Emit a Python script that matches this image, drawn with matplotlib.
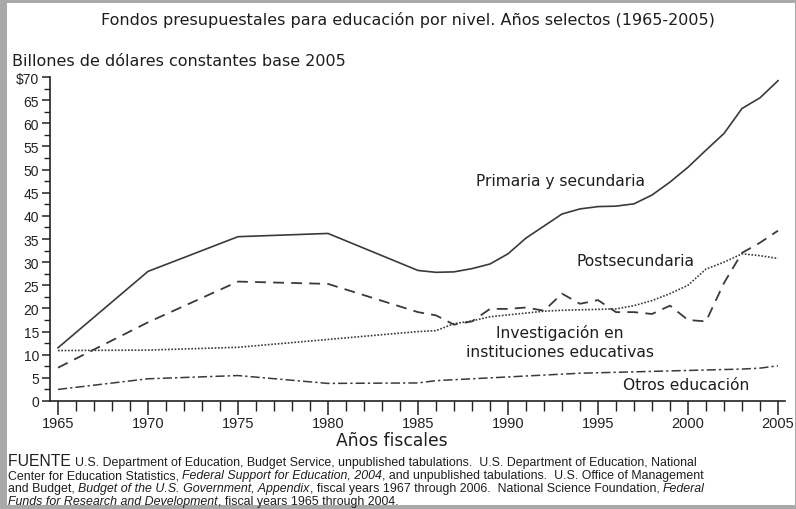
import numpy as np
import matplotlib
matplotlib.use("Agg")
import matplotlib.pyplot as plt
from matplotlib.patches import Rectangle
from matplotlib.ticker import MultipleLocator

plt.rcParams['font.family'] = ['Liberation Sans', 'DejaVu Sans']

# años: cada 5 años hasta 1985, luego anual
years = [1965, 1970, 1975, 1980, 1985, 1986, 1987, 1988, 1989, 1990, 1991, 1992,
         1993, 1994, 1995, 1996, 1997, 1998, 1999, 2000, 2001, 2002, 2003, 2004, 2005]

primaria = [11.5, 28.0, 35.5, 36.2, 28.2, 27.8, 27.9, 28.6, 29.6, 31.8, 35.2, 37.8,
            40.4, 41.5, 42.0, 42.1, 42.6, 44.5, 47.3, 50.5, 54.2, 57.8, 63.2, 65.5, 69.2]
postsec = [7.2, 17.0, 25.8, 25.3, 19.2, 18.5, 16.5, 17.2, 19.9, 19.9, 20.2, 19.5,
           23.2, 21.0, 21.8, 19.2, 19.2, 18.8, 20.6, 17.5, 17.2, 25.5, 32.0, 34.2, 36.8]
investigacion = [10.9, 11.0, 11.6, 13.3, 15.0, 15.2, 16.7, 17.3, 18.2, 18.6, 19.0, 19.4,
                 19.6, 19.7, 19.8, 19.9, 20.6, 21.7, 23.2, 25.0, 28.5, 30.0, 31.8, 31.4, 30.8]
otros = [2.5, 4.8, 5.5, 3.8, 3.9, 4.4, 4.6, 4.8, 5.0, 5.2, 5.4, 5.6,
         5.8, 6.0, 6.1, 6.2, 6.3, 6.4, 6.5, 6.6, 6.7, 6.8, 6.9, 7.1, 7.6]

ytick_vals = list(range(0, 75, 5))
ytick_labels = ['$70' if v == 70 else str(v) for v in ytick_vals]
xtick_vals = list(range(1965, 2010, 5))

W, H = 796, 510
fig = plt.figure(figsize=(W / 100, H / 100), dpi=100)
fig.patch.set_facecolor('#a9a9a9')
fig.add_artist(Rectangle((7 / W, 4 / H), 1 - 8 / W, 1 - 8 / H, transform=fig.transFigure,
                         facecolor='white', edgecolor='none', zorder=-10))

ax = fig.add_axes([50 / W, 1 - 402 / H, 735 / W, 324 / H])
ax.set_facecolor('white')
lc = '#3a3a3a'
ax.plot(years, primaria, color=lc, lw=1.2, ls='-')
ax.plot(years, postsec, color=lc, lw=1.3, ls=(0, (6, 4)))
ax.plot(years, investigacion, color=lc, lw=1.2, ls=(0, (1, 1)))
ax.plot(years, otros, color=lc, lw=1.1, ls=(0, (6, 2, 1.5, 2)))

ax.set_xlim(1965 - 8 / 18, 2005 + 7 / 18)
ax.set_ylim(0, 70)
for s in ['top', 'right']:
    ax.spines[s].set_visible(False)
for s in ['left', 'bottom']:
    ax.spines[s].set_color('#222222')
    ax.spines[s].set_linewidth(1.2)

ax.set_yticks(ytick_vals)
ax.set_yticklabels(ytick_labels)
ax.yaxis.set_minor_locator(MultipleLocator(2.5))
ax.set_xticks(xtick_vals)
ax.set_xticklabels([str(v) for v in xtick_vals])
ax.xaxis.set_minor_locator(MultipleLocator(1))
ax.tick_params(axis='y', which='major', length=6, width=1.1, color='#222222',
               labelsize=10, pad=2, labelcolor='#222222')
ax.tick_params(axis='y', which='minor', length=4, width=1.0, color='#222222')
ax.tick_params(axis='x', which='major', length=10, width=1.1, color='#222222',
               labelsize=10.5, pad=1, labelcolor='#222222')
ax.tick_params(axis='x', which='minor', length=7, width=1.0, color='#222222')

tc = '#1e1e1e'
lab_font = ['DejaVu Sans']
ax.text(1992.9, 47.6, 'Primaria y secundaria', ha='center', va='center', fontsize=11.2,
        color=tc, family=lab_font)
ax.text(1997.1, 30.3, 'Postsecundaria', ha='center', va='center', fontsize=11.2,
        color=tc, family=lab_font)
ax.text(1992.9, 14.9, 'Investigación en', ha='center', va='center', fontsize=11.2,
        color=tc, family=lab_font)
ax.text(1992.9, 10.8, 'instituciones educativas', ha='center', va='center', fontsize=11.2,
        color=tc, family=lab_font)
ax.text(1999.9, 3.5, 'Otros educación', ha='center', va='center', fontsize=11.2,
        color=tc, family=lab_font)

fig.text(408 / W, 1 - 20 / H, 'Fondos presupuestales para educación por nivel. Años selectos (1965-2005)',
         ha='center', va='center', fontsize=11.5, color=tc, family=lab_font)
fig.text(12 / W, 1 - 62 / H, 'Billones de dólares constantes base 2005',
         ha='left', va='center', fontsize=11.5, color=tc, family=lab_font)
fig.text(392 / W, 1 - 446 / H, 'Años fiscales', ha='center', va='baseline', fontsize=12.3,
         color=tc, family=lab_font)

# nota de fuente, con partes en cursiva
fs = 8.9
src_lines = [
    [('FUENTE ', 'normal', 11.3), ('U.S. Department of Education, Budget Service, unpublished tabulations.  '
      'U.S. Department of Education, National', 'normal', fs)],
    [('Center for Education Statistics, ', 'normal', fs), ('Federal Support for Education, 2004', 'italic', fs),
     (', and unpublished tabulations.  U.S. Office of Management', 'normal', fs)],
    [('and Budget, ', 'normal', fs), ('Budget of the U.S. Government, Appendix', 'italic', fs),
     (', fiscal years 1967 through 2006.  National Science Foundation, ', 'normal', fs),
     ('Federal', 'italic', fs)],
    [('Funds for Research and Development', 'italic', fs),
     (', fiscal years 1965 through 2004.', 'normal', fs)],
]
src_y = [466, 479.5, 492.5, 505]
fig.canvas.draw()
renderer = fig.canvas.get_renderer()
for parts, py in zip(src_lines, src_y):
    x = 8 / W
    for txt, st, sz in parts:
        t = fig.text(x, 1 - py / H, txt, ha='left', va='baseline', fontsize=sz, style=st, color=tc)
        bb = t.get_window_extent(renderer)
        x += bb.width / W

fig.savefig('out.png', dpi=100, facecolor=fig.get_facecolor())
